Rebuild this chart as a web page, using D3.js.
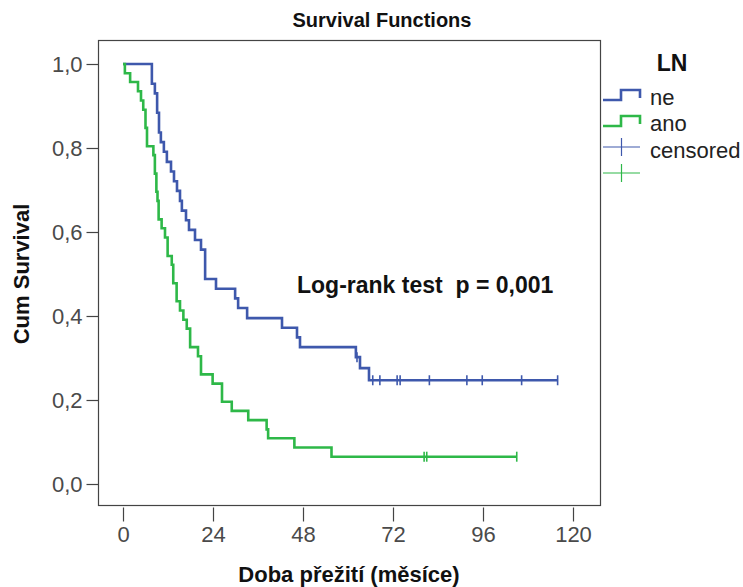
<!DOCTYPE html>
<html>
<head>
<meta charset="utf-8">
<script src="https://cdn.jsdelivr.net/npm/d3@7"></script>
<style>
  html, body { margin: 0; padding: 0; background: #fff; }
  svg { display: block; }
  text { font-family: "Liberation Sans", Arial, sans-serif; }
</style>
</head>
<body>
<svg id="chart" width="743" height="587"></svg>
<script>
// ---- data ----
const groups = ["ne", "ano"];
const blueTimes = [0, 7.7, 8.5, 9.1, 9.6, 10.1, 10.9, 11.7, 12.8, 13.6, 14.4, 15.2, 15.7, 16.8, 17.6, 19.2, 20.8, 21.9, 24.8, 29.9, 30.7, 33.1, 42.4, 46.4, 47.2, 62.1, 63.2, 65.6];
const blueSurv  = [1.0, 0.953, 0.930, 0.884, 0.837, 0.814, 0.791, 0.767, 0.744, 0.721, 0.698, 0.674, 0.651, 0.628, 0.605, 0.581, 0.558, 0.488, 0.465, 0.442, 0.419, 0.395, 0.372, 0.349, 0.326, 0.302, 0.276, 0.247];
const blueEnd = 115.9;
const blueCensor = [62.4, 66.6, 68.5, 73.1, 73.9, 81.7, 91.7, 95.8, 106.3, 115.9];

const greenTimes = [0, 0.5, 1.9, 4.0, 4.8, 5.4, 6.0, 6.4, 8.1, 8.5, 8.9, 9.2, 9.5, 10.3, 11.2, 11.9, 13.0, 13.4, 14.3, 15.2, 16.1, 17.0, 17.9, 20.0, 20.8, 23.9, 26.4, 29.0, 33.4, 38.3, 38.7, 45.7, 55.6];
const greenSurv  = [1.0, 0.978, 0.957, 0.935, 0.913, 0.891, 0.848, 0.804, 0.783, 0.739, 0.696, 0.674, 0.630, 0.609, 0.587, 0.543, 0.522, 0.478, 0.435, 0.413, 0.391, 0.370, 0.326, 0.304, 0.261, 0.239, 0.196, 0.174, 0.152, 0.130, 0.109, 0.087, 0.065];
const greenEnd = 105.0;
const greenCensor = [80.3, 81.0, 105.0];

const xTicks = [0, 24, 48, 72, 96, 120];
const yTicks = [0, 0.2, 0.4, 0.6, 0.8, 1.0];
const colors = ["#3E58AC", "#2EB848"];

// ---- layout ----
const svg = d3.select("#chart");
const frame = {left: 98, right: 600, top: 40, bottom: 505};
const x = d3.scaleLinear().domain([0, 120]).range([123, 573]);
const y = d3.scaleLinear().domain([0, 1]).range([484, 64]);

// frame
svg.append("rect")
  .attr("x", frame.left + 0.5).attr("y", frame.top + 0.5)
  .attr("width", frame.right - frame.left).attr("height", frame.bottom - frame.top)
  .attr("fill", "none").attr("stroke", "#444").attr("stroke-width", 1.2);

// y axis
const yAxis = d3.axisLeft(y).tickValues(yTicks).tickSize(12).tickPadding(4)
  .tickFormat(d => d3.format(".1f")(d).replace(".", ","));
const gy = svg.append("g").attr("transform", `translate(${frame.left + 0.5},0)`).call(yAxis);
gy.select(".domain").remove();
gy.selectAll(".tick line").attr("stroke", "#444").attr("stroke-width", 1.2);
gy.selectAll(".tick text").attr("font-size", 22).attr("fill", "#4a4a4a")
  .attr("font-family", "Liberation Sans, Arial, sans-serif");

// x axis
const xAxis = d3.axisBottom(x).tickValues(xTicks).tickSize(14).tickPadding(5);
const gx = svg.append("g").attr("transform", `translate(0,${frame.bottom + 2.5})`).call(xAxis);
gx.select(".domain").remove();
gx.selectAll(".tick line").attr("stroke", "#444").attr("stroke-width", 1.2);
gx.selectAll(".tick text").attr("font-size", 22).attr("fill", "#4a4a4a")
  .attr("font-family", "Liberation Sans, Arial, sans-serif");

// curves
const line = d3.line().x(d => x(d[0])).y(d => y(d[1])).curve(d3.curveStepAfter);
const series = [
  {times: blueTimes, surv: blueSurv, end: blueEnd, censor: blueCensor, color: colors[0]},
  {times: greenTimes, surv: greenSurv, end: greenEnd, censor: greenCensor, color: colors[1]}
];
series.forEach(s => {
  const pts = s.times.map((t, i) => [t, s.surv[i]]);
  pts.push([s.end, s.surv[s.surv.length - 1]]);
  svg.append("path").datum(pts)
    .attr("d", line).attr("fill", "none")
    .attr("stroke", s.color).attr("stroke-width", 2.6)
    .attr("stroke-linejoin", "miter");
  const survAt = t => s.surv[d3.bisectRight(s.times, t) - 1];
  svg.selectAll(null).data(s.censor).enter().append("line")
    .attr("x1", d => x(d)).attr("x2", d => x(d))
    .attr("y1", d => y(survAt(d)) - 5).attr("y2", d => y(survAt(d)) + 5)
    .attr("stroke", s.color).attr("stroke-width", 1.6);
});

// titles
svg.append("text").attr("x", 382).attr("y", 27).attr("text-anchor", "middle")
  .attr("font-size", 20).attr("font-weight", "bold").attr("fill", "#111")
  .text("Survival Functions");
svg.append("text").attr("x", 349).attr("y", 582).attr("text-anchor", "middle")
  .attr("font-size", 22).attr("font-weight", "bold").attr("fill", "#111")
  .text("Doba přežití (měsíce)");
svg.append("text").attr("transform", "translate(29,274) rotate(-90)").attr("text-anchor", "middle")
  .attr("font-size", 22).attr("font-weight", "bold").attr("fill", "#111")
  .text("Cum Survival");
svg.append("text").attr("x", 297).attr("y", 293)
  .attr("font-size", 23).attr("font-weight", "bold").attr("fill", "#111")
  .attr("xml:space", "preserve")
  .text("Log-rank test  p = 0,001");

// legend
const lg = svg.append("g");
lg.append("text").attr("x", 672).attr("y", 71).attr("text-anchor", "middle")
  .attr("font-size", 23).attr("font-weight", "bold").attr("fill", "#111").text("LN");
const legendRows = [97, 123];
groups.forEach((g, i) => {
  const cy = legendRows[i];
  lg.append("path")
    .attr("d", `M603,${cy + 3} H621 V${cy - 7} H640 V${cy + 1}`)
    .attr("fill", "none").attr("stroke", colors[i]).attr("stroke-width", 2.6);
  lg.append("text").attr("x", 650).attr("y", cy + 8)
    .attr("font-size", 22).attr("fill", "#222").text(g);
});
const censorRows = [147, 173];
censorRows.forEach((cy, i) => {
  lg.append("line").attr("x1", 603).attr("x2", 640).attr("y1", cy).attr("y2", cy)
    .attr("stroke", colors[i]).attr("stroke-width", 1.2);
  lg.append("line").attr("x1", 621.5).attr("x2", 621.5).attr("y1", cy - 9).attr("y2", cy + 9)
    .attr("stroke", colors[i]).attr("stroke-width", 1.2);
});
lg.append("text").attr("x", 650).attr("y", 158)
  .attr("font-size", 22).attr("fill", "#222").text("censored");
</script>
</body>
</html>
